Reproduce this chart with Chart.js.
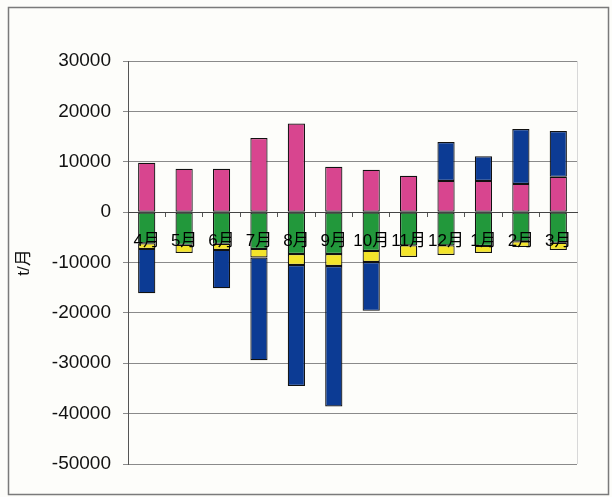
<!DOCTYPE html>
<html>
<head>
<meta charset="utf-8">
<script src="https://cdn.jsdelivr.net/npm/chart.js@4/dist/chart.umd.min.js"></script>
<style>
  html, body { margin: 0; padding: 0; background: #fcfcf9; }
  #wrap { position: relative; width: 612px; height: 497px; }
</style>
</head>
<body>
<div id="wrap"><canvas id="grafico" width="612" height="497"></canvas></div>
<script>
// mesi (aprile - marzo)
const mesi = ['4月', '5月', '6月', '7月', '8月', '9月', '10月', '11月', '12月', '1月', '2月', '3月'];

// serie, t/月
const rosa   = [9800, 8600, 8600, 14700, 17600, 9000, 8400, 7200, 6200, 6200, 5600, 7000];
const verde  = [-6200, -6500, -6300, -7300, -8300, -8300, -7700, -6600, -6600, -6700, -5800, -6100];
const giallo = [-1100, -1600, -1200, -1700, -2200, -2400, -2200, -2300, -1900, -1400, -1100, -1400];
const blu    = [-8800, 0, -7600, -20400, -24000, -27900, -9700, 0, 7700, 4900, 10900, 9100];

// etichette asse y
const tickY = [30000, 20000, 10000, 0, -10000, -20000, -30000, -40000, -50000];

const fontLat = "'Liberation Sans', Arial, 'Noto Sans CJK JP', sans-serif";
const fontMesi = "'Liberation Sans', 'Noto Sans CJK JP', sans-serif";

// cornice esterna del grafico
const cornice = {
  id: 'cornice',
  beforeDraw(chart) {
    const ctx = chart.ctx;
    ctx.save();
    ctx.fillStyle = '#fdfdfa';
    ctx.fillRect(0, 0, chart.width, chart.height);
    ctx.strokeStyle = '#7a7a7a';
    ctx.lineWidth = 1.5;
    ctx.strokeRect(8.5, 7.5, 600, 487);
    ctx.restore();
  },
  afterDatasetsDraw(chart) {
    // bordo destro leggero dell'area del grafico
    const a = chart.chartArea;
    const ctx = chart.ctx;
    ctx.save();
    ctx.strokeStyle = '#d8d8d8';
    ctx.lineWidth = 1;
    ctx.beginPath();
    ctx.moveTo(a.right + 0.5, a.top);
    ctx.lineTo(a.right + 0.5, a.bottom);
    ctx.stroke();
    ctx.restore();
  }
};

function serie(label, data, colore) {
  return {
    label: label,
    data: data,
    backgroundColor: colore,
    borderColor: '#111',
    borderWidth: 1.2,
    borderSkipped: false,
    barPercentage: 0.46,
    categoryPercentage: 1
  };
}

var ctx = document.getElementById('grafico').getContext('2d');
var grafico = new Chart(ctx, {
  type: 'bar',
  data: {
    labels: mesi,
    datasets: [
      serie('rosa', rosa, '#d8458f'),
      serie('verde', verde, '#22983b'),
      serie('giallo', giallo, '#f3e42b'),
      serie('blu', blu, '#0c3b94')
    ]
  },
  options: {
    responsive: false,
    animation: false,
    layout: { padding: { left: 8, top: 61, right: 35, bottom: 33 } },
    plugins: {
      legend: { display: false },
      tooltip: { enabled: false }
    },
    scales: {
      x: {
        stacked: true,
        position: { y: 0 },
        offset: true,
        grid: {
          display: true,
          offset: true,
          drawOnChartArea: false,
          drawTicks: true,
          tickLength: 4,
          color: '#555'
        },
        border: { display: true, color: '#444', width: 1, z: 1 },
        ticks: {
          z: 2,
          color: '#000',
          padding: 15,
          maxRotation: 0,
          autoSkip: false,
          font: { family: fontMesi, size: 17 }
        }
      },
      y: {
        stacked: true,
        min: -50000,
        max: 30000,
        afterBuildTicks: function(scale) {
          scale.ticks = tickY.map(v => ({ value: v }));
        },
        afterFit: function(scale) {
          scale.width = 120;
        },
        grid: {
          color: '#8a8a8a',
          lineWidth: 1,
          drawTicks: true,
          tickLength: 5
        },
        border: { display: true, color: '#555', width: 1 },
        ticks: {
          color: '#111',
          padding: 12,
          callback: function(value) {
            return String(value);
          },
          font: { family: fontLat, size: 19 }
        },
        title: {
          display: true,
          text: 't/月',
          color: '#111',
          padding: { top: 6, bottom: 0 },
          font: { family: fontMesi, size: 17 }
        }
      }
    }
  },
  plugins: [cornice]
});
</script>
</body>
</html>
